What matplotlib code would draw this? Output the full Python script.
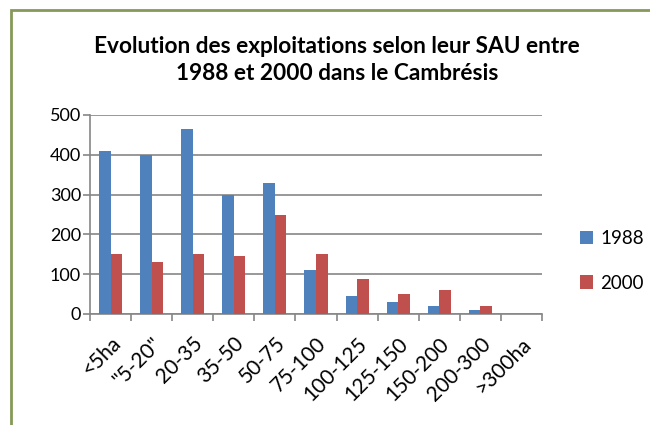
import matplotlib
matplotlib.use('Agg')
import matplotlib.pyplot as plt
from matplotlib.patches import Rectangle
import numpy as np

plt.rcParams['font.family'] = ['Lato', 'DejaVu Sans']

# data
categories = ['<5ha', '"5-20"', '20-35', '35-50', '50-75', '75-100',
              '100-125', '125-150', '150-200', '200-300', '>300ha']
values_1988 = [410, 400, 465, 300, 330, 110, 45, 30, 20, 10, 0]
values_2000 = [150, 130, 150, 145, 248, 150, 88, 50, 60, 20, 0]
series_names = ['1988', '2000']

blue = '#4F81BD'
red = '#C0504D'
grey = '#868686'

fig = plt.figure(figsize=(6.5, 4.25), dpi=100)
ax = fig.add_axes([90/650, 1-314/425, (542-90)/650, (314-115)/425])

x = np.arange(len(categories))
w = 0.28
ax.bar(x - w/2, values_1988, w, color=blue, label=series_names[0], zorder=3)
ax.bar(x + w/2, values_2000, w, color=red, label=series_names[1], zorder=3)

ax.set_xlim(-0.5, len(categories) - 0.5)
ax.set_ylim(0, 500)
ax.set_yticks(range(0, 501, 100))
ax.yaxis.grid(True, color=grey, linewidth=1.2, zorder=0)

# category labels on major ticks (hidden), tick marks at boundaries
ax.set_xticks(x)
ax.set_xticklabels(categories, rotation=45, ha='right', rotation_mode='anchor', fontsize=15)
ax.tick_params(axis='x', which='major', length=0, pad=14)
ax.set_xticks(np.arange(-0.5, len(categories)), minor=True)
ax.tick_params(axis='x', which='minor', length=5, width=1.2, color=grey)
ax.tick_params(axis='y', length=5, width=1.2, color=grey, labelsize=13, pad=1.5)

for s in ['top', 'right']:
    ax.spines[s].set_visible(False)
for s in ['left', 'bottom']:
    ax.spines[s].set_color(grey)
    ax.spines[s].set_linewidth(1.2)

fig.text(337/650, 1-60/425, 'Evolution des exploitations selon leur SAU entre\n1988 et 2000 dans le Cambrésis',
         ha='center', va='center', fontsize=16.3, fontweight='bold', linespacing=1.3)

fig.legend(loc='center left', bbox_to_anchor=(563/650, 1-261/425), frameon=False,
           fontsize=13.5, handlelength=0.7, handleheight=0.7, handletextpad=0.4,
           labelspacing=1.45)

# outer chart border (partly cut by the image edge)
fig.patches.append(Rectangle((11/650, -0.5), 2, 1.5 - 10/425, transform=fig.transFigure,
                             fill=False, edgecolor='#86995a', linewidth=2))

fig.savefig('out.png', dpi=100)
